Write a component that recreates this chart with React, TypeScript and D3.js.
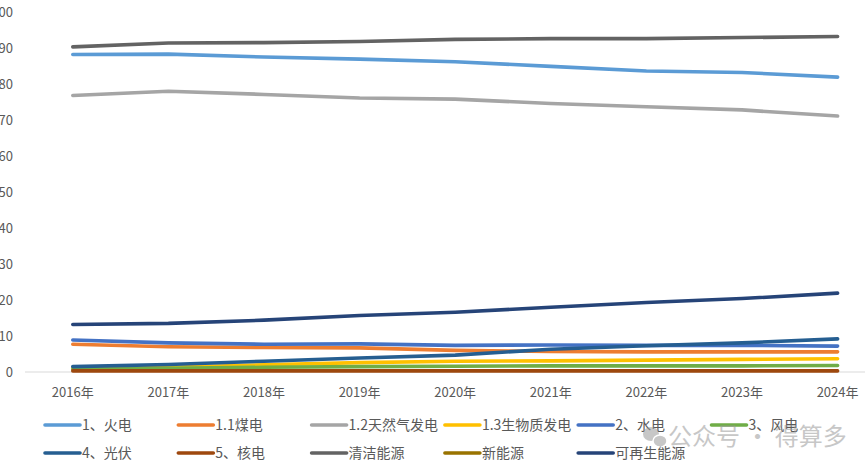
import React from "react";
import * as d3 from "d3";

// Share of installed capacity / generation by source, 2016–2024 (%)
const years = ["2016年", "2017年", "2018年", "2019年", "2020年", "2021年", "2022年", "2023年", "2024年"];

const thermal = [88.2, 88.3, 87.5, 86.9, 86.2, 84.9, 83.6, 83.2, 81.9];
const coal = [7.7, 7.0, 6.8, 6.7, 6.0, 5.7, 5.6, 5.6, 5.6];
const gas = [76.8, 78.0, 77.1, 76.1, 75.8, 74.6, 73.7, 72.8, 71.1];
const biomass = [1.0, 1.3, 2.0, 2.6, 3.0, 3.1, 3.3, 3.5, 3.7];
const hydro = [8.9, 8.1, 7.7, 7.8, 7.4, 7.5, 7.4, 7.4, 7.2];
const wind = [0.7, 1.0, 1.3, 1.5, 1.6, 1.7, 1.7, 1.7, 1.8];
const solar = [1.5, 2.1, 3.0, 3.9, 4.7, 6.3, 7.3, 8.1, 9.2];
const nuclear = [0.3, 0.3, 0.3, 0.3, 0.3, 0.3, 0.3, 0.3, 0.3];
const clean = [90.3, 91.4, 91.5, 91.8, 92.4, 92.6, 92.6, 92.9, 93.2];
const newEnergy: (number | null)[] = [null, null, null, null, null, null, null, null, null];
const renewable = [13.2, 13.5, 14.4, 15.7, 16.6, 18.0, 19.3, 20.4, 21.9];

const yTicks = [0, 10, 20, 30, 40, 50, 60, 70, 80, 90, 100];

const seriesNames = [
  "1、火电", "1.1煤电", "1.2天然气发电", "1.3生物质发电", "2、水电", "3、风电",
  "4、光伏", "5、核电", "清洁能源", "新能源", "可再生能源",
];
const seriesValues = [thermal, coal, gas, biomass, hydro, wind, solar, nuclear, clean, newEnergy, renewable];
const seriesColors = [
  "#5B9BD5", "#ED7D31", "#A5A5A5", "#FFC000", "#4472C4", "#70AD47",
  "#255E91", "#9E480E", "#636363", "#997300", "#264478",
];

const W = 865;
const H = 471;
const FONT = "'Noto Sans CJK SC', 'Noto Sans', sans-serif";
const TEXT = "#595959";

export default function App() {
  const x = d3.scaleBand<string>().domain(years).range([25, 25 + 95.6 * years.length]);
  const y = d3.scaleLinear().domain([0, 100]).range([372, 12]);
  const cx = (d: string) => (x(d) ?? 0) + x.bandwidth() / 2;

  const line = d3
    .line<number | null>()
    .defined((v) => v !== null)
    .x((_, i) => cx(years[i]))
    .y((v) => y(v as number));

  const legendX = (i: number) => 45 + (i % 6) * 133.3;
  const legendY = (i: number) => (i < 6 ? 425 : 453);

  return (
    <svg
      width={W}
      height={H}
      style={{ position: "absolute", left: 0, top: 0, background: "#fff" }}
      fontFamily={FONT}
    >
      {/* value axis labels */}
      {yTicks.map((t) => (
        <text key={t} x={13} y={y(t)} dy="0.35em" textAnchor="end" fontSize={13} fill={TEXT}>
          {t}
        </text>
      ))}

      {/* category axis */}
      <line x1={25} x2={W} y1={y(0)} y2={y(0)} stroke="#D9D9D9" strokeWidth={1} />
      {years.map((yr) => (
        <text key={yr} x={cx(yr)} y={392} dy="0.35em" textAnchor="middle" fontSize={13} fill={TEXT}>
          {yr}
        </text>
      ))}

      {/* series lines */}
      {seriesValues.map((vals, i) => (
        <path
          key={seriesNames[i]}
          d={line(vals) ?? ""}
          fill="none"
          stroke={seriesColors[i]}
          strokeWidth={3.6}
          strokeLinecap="round"
          strokeLinejoin="round"
        />
      ))}

      {/* legend */}
      {seriesNames.map((name, i) => (
        <g key={name} transform={`translate(${legendX(i)},${legendY(i)})`}>
          <line x1={0} x2={35} y1={0} y2={0} stroke={seriesColors[i]} strokeWidth={3.6} strokeLinecap="round" />
          <text x={37} y={0} dy="0.35em" fontSize={14} fill={TEXT}>
            {name}
          </text>
        </g>
      ))}

      {/* account mark */}
      <g opacity={0.55}>
        <ellipse cx={651} cy={434} rx={8} ry={7} fill="#9a9a9a" />
        <ellipse cx={660} cy={441} rx={7} ry={6} fill="#9a9a9a" stroke="#fff" strokeWidth={1.5} />
        <text x={668} y={437} dy="0.35em" fontSize={24} fill="#9a9a9a">
          公众号 · 得算多
        </text>
      </g>
    </svg>
  );
}
